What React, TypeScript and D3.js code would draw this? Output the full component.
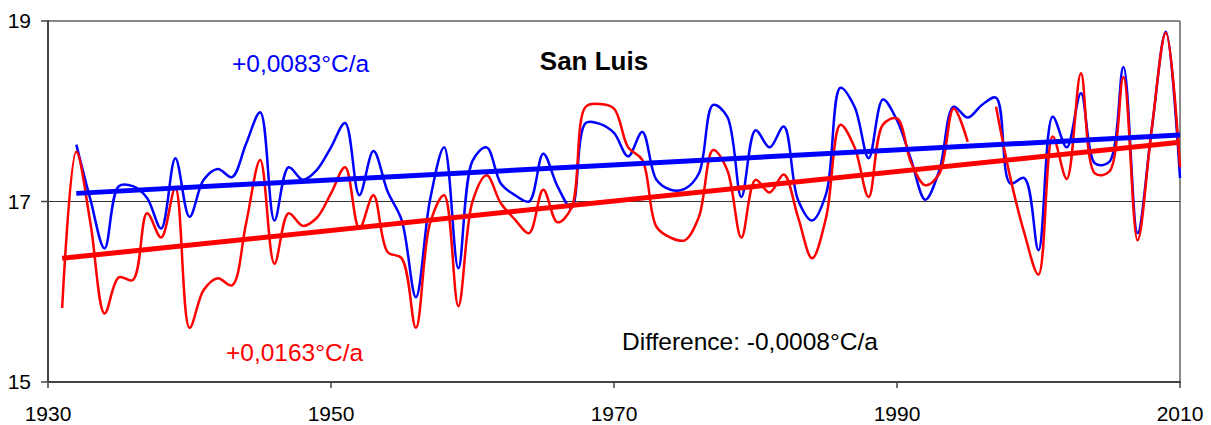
import React from "react";
import * as d3 from "d3";

// Annual mean temperature, San Luis (°C)
const years: number[] = d3.range(1931, 2011);

// Series drawn in blue (starts 1932)
const blueValues: (number | null)[] = [
  null, 17.63, 17.02, 16.48, 17.17, 17.17, 17.04, 16.7, 17.48, 16.83,
  17.24, 17.36, 17.27, 17.64, 17.99, 16.79, 17.38, 17.24, 17.35, 17.6,
  17.87, 17.07, 17.56, 17.11, 16.79, 15.94, 17.02, 17.6, 16.26, 17.45,
  17.6, 17.2, 17.07, 17.0, 17.53, 17.17, 16.93, 17.87, 17.86, 17.76,
  17.5, 17.77, 17.24, 17.13, 17.14, 17.31, 18.07, 17.94, 17.05, 17.79,
  17.6, 17.83, 17.02, 16.79, 17.09, 18.26, 18.05, 17.48, 18.13, 17.9,
  17.46, 17.02, 17.35, 18.05, 17.93, 18.07, 18.15, 17.2, 17.26, 16.46,
  17.94, 17.6, 18.2, 17.42, 17.44, 18.49, 16.65, 17.8, 18.88, 17.26,
];

// Series drawn in red (1996 missing)
const redValues: (number | null)[] = [
  15.82, 17.55, 16.76, 15.76, 16.16, 16.13, 16.87, 16.6, 17.15, 15.6,
  16.02, 16.15, 16.07, 16.76, 17.46, 16.31, 16.87, 16.73, 16.82, 17.09,
  17.38, 16.7, 17.07, 16.44, 16.37, 15.6, 16.76, 17.07, 15.84, 17.0,
  17.29, 16.98, 16.8, 16.65, 17.13, 16.77, 16.93, 18.05, 18.08, 18.03,
  17.6, 17.46, 16.72, 16.6, 16.57, 16.83, 17.57, 17.35, 16.6, 17.24,
  17.1, 17.3, 16.83, 16.37, 16.83, 17.85, 17.6, 17.05, 17.85, 17.92,
  17.43, 17.18, 17.31, 18.03, 17.66, null, 18.05, 17.27, 16.65, 16.19,
  17.72, 17.25, 18.42, 17.31, 17.33, 18.38, 16.57, 17.8, 18.87, 17.38,
];

// Linear trends: slope (°C per year) and value at the first year
const blueTrend = { slope: 0.0083, start: 1932, startValue: 17.09, end: 2010 };
const redTrend = { slope: 0.0163, start: 1931, startValue: 16.37, end: 2010 };

const xTicks: number[] = [1930, 1950, 1970, 1990, 2010];
const yTicks: number[] = [15, 17, 19];

const title = "San Luis";
const blueLabel = "+0,0083°C/a";
const redLabel = "+0,0163°C/a";
const diffLabel = "Difference: -0,0008°C/a";

const W = 1211;
const H = 425;
const left = 48;
const right = 1180;
const top = 21;
const bottom = 382;

const FONT = "Arial, 'Liberation Sans', Helvetica, sans-serif";

export default function App() {
  const x = d3.scaleLinear().domain([1930, 2010]).range([left, right]);
  const y = d3.scaleLinear().domain([15, 19]).range([bottom, top]);

  const seriesLine = d3
    .line<[number, number | null]>()
    .defined((d) => d[1] !== null)
    .x((d) => x(d[0]))
    .y((d) => y(d[1] as number))
    .curve(d3.curveCatmullRom.alpha(0.5));

  const bluePts = years.map((yr, i) => [yr, blueValues[i]] as [number, number | null]);
  const redPts = years.map((yr, i) => [yr, redValues[i]] as [number, number | null]);

  const trendPath = (t: typeof blueTrend) => {
    const pts: [number, number][] = [
      [t.start, t.startValue],
      [t.end, t.startValue + t.slope * (t.end - t.start)],
    ];
    return d3.line<[number, number]>().x((d) => x(d[0])).y((d) => y(d[1]))(pts) || "";
  };

  return (
    <div style={{ position: "fixed", left: 0, top: 0, width: W, height: H, overflow: "hidden" }}>
      <svg width={W} height={H} style={{ display: "block", background: "#fff" }}>
        {/* frame */}
        <line x1={left} x2={right} y1={top} y2={top} stroke="#888" strokeWidth={2} />
        <line x1={right} x2={right} y1={top} y2={bottom} stroke="#888" strokeWidth={2} />
        {/* gridline at 17 */}
        <line x1={left} x2={right} y1={y(17)} y2={y(17)} stroke="#333" strokeWidth={1} />

        {/* series */}
        <path d={seriesLine(bluePts) || ""} fill="none" stroke="#0000ff" strokeWidth={2.5} />
        <path d={seriesLine(redPts) || ""} fill="none" stroke="#ff0000" strokeWidth={2.5} />

        {/* trends */}
        <path d={trendPath(blueTrend)} fill="none" stroke="#0000ff" strokeWidth={5} />
        <path d={trendPath(redTrend)} fill="none" stroke="#ff0000" strokeWidth={5} />

        {/* axes */}
        <line x1={left} x2={left} y1={top - 1} y2={bottom} stroke="#444" strokeWidth={2} />
        <line x1={left} x2={right + 1} y1={bottom} y2={bottom} stroke="#444" strokeWidth={2} />
        {yTicks.map((t) => (
          <g key={"y" + t}>
            <line x1={left - 7} x2={left} y1={y(t)} y2={y(t)} stroke="#444" strokeWidth={1.5} />
            <text
              x={31}
              y={y(t)}
              dy="0.35em"
              textAnchor="end"
              fontFamily={FONT}
              fontSize={21}
              fill="#000"
            >
              {t}
            </text>
          </g>
        ))}
        {xTicks.map((t) => (
          <g key={"x" + t}>
            <line x1={x(t)} x2={x(t)} y1={bottom} y2={bottom + 6} stroke="#444" strokeWidth={1.5} />
            <text
              x={x(t)}
              y={421}
              textAnchor="middle"
              fontFamily={FONT}
              fontSize={21}
              fill="#000"
            >
              {t}
            </text>
          </g>
        ))}

        {/* annotations */}
        <text x={594} y={70} textAnchor="middle" fontFamily={FONT} fontSize={26} fontWeight="bold" fill="#000">
          {title}
        </text>
        <text x={232} y={72} fontFamily={FONT} fontSize={24.5} fill="#0000ff">
          {blueLabel}
        </text>
        <text x={226} y={361} fontFamily={FONT} fontSize={24.5} fill="#ff0000">
          {redLabel}
        </text>
        <text x={622} y={350} fontFamily={FONT} fontSize={24.5} fill="#000">
          {diffLabel}
        </text>
      </svg>
    </div>
  );
}
